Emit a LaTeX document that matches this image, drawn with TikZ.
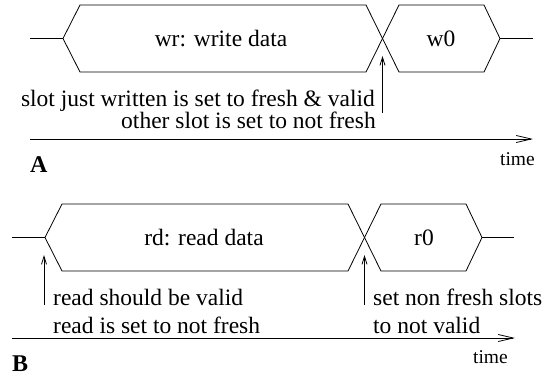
\documentclass[tikz,border=0pt]{standalone}
\usepackage{fontspec}
\setmainfont{Liberation Serif}
\usetikzlibrary{arrows.meta}
\begin{document}
\begin{tikzpicture}[x=1pt,y=-1pt,
  sig/.style={line width=0.8pt, line join=miter},
  axis/.style={line width=0.8pt, -{Straight Barb[length=15pt,width=7pt,line width=0.8pt]}},
  pointer/.style={line width=0.8pt, -{Straight Barb[length=8pt,width=5pt,line width=0.8pt]}},
  lbl/.style={inner sep=0pt, font=\fontsize{23.5}{26}\selectfont},
  ann/.style={inner sep=0pt, font=\fontsize{23.5}{26}\selectfont},
  tlbl/.style={inner sep=0pt, font=\fontsize{19.5}{22}\selectfont},
  plbl/.style={inner sep=0pt, font=\fontsize{24}{26}\selectfont\bfseries}]
\useasboundingbox (0,0) rectangle (552,378);
% ---------- A ----------
\coordinate (aL) at (30,38.5);
\coordinate (aX) at (382.5,38.5);
\coordinate (aR) at (500,38.5);
\coordinate (aE) at (533,38.5);
\draw[sig] (aL) -- (63,38.5);
\draw[sig] (63,38.5) -- (80,5) -- (366,5) -- (aX) -- (366,72) -- (80,72) -- cycle;
\draw[sig] (aX) -- (399,5) -- (484,5) -- (aR) -- (484,72) -- (399,72) -- cycle;
\draw[sig] (aR) -- (aE);
\node[lbl] (wr) at (221,38.5) {wr: write data};
\node[lbl] (w0) at (441,38.5) {w0};
\coordinate (aM0) at (382.5,113);
\coordinate (aM1) at (382.5,56);
\draw[pointer] (aM0) -- (aM1);
\node[ann, anchor=base east] (a1) at (375,106.7) {slot just written is set to fresh \& valid};
\node[ann, anchor=base east] (a2) at (376,128) {other slot is set to not fresh};
\coordinate (aT0) at (30,139);
\coordinate (aT1) at (533,139);
\draw[axis] (aT0) -- (aT1);
\node[tlbl, anchor=base east] (at) at (535,165) {time};
\node[plbl, anchor=base west] (A) at (30,172) {A};
% ---------- B ----------
\coordinate (bL) at (12,237.5);
\coordinate (bX) at (364.5,237.5);
\coordinate (bR) at (482,237.5);
\coordinate (bE) at (514,237.5);
\draw[sig] (bL) -- (45,237.5);
\draw[sig] (45,237.5) -- (62,204) -- (348,204) -- (bX) -- (348,271) -- (62,271) -- cycle;
\draw[sig] (bX) -- (381,204) -- (466,204) -- (bR) -- (466,271) -- (381,271) -- cycle;
\draw[sig] (bR) -- (bE);
\node[lbl] (rd) at (204,237.5) {rd: read data};
\node[lbl] (r0) at (424,237.5) {r0};
\coordinate (bM0) at (44,305);
\coordinate (bM1) at (44,255);
\draw[pointer] (bM0) -- (bM1);
\coordinate (bN0) at (364.5,305);
\coordinate (bN1) at (364.5,255);
\draw[pointer] (bN0) -- (bN1);
\node[ann, anchor=base west] (b1) at (53,305) {read should be valid};
\node[ann, anchor=base west] (b2) at (53,333) {read is set to not fresh};
\node[ann, anchor=base west] (b3) at (373,305) {set non fresh slots};
\node[ann, anchor=base west] (b4) at (373,333) {to not valid};
\coordinate (bT0) at (12,338);
\coordinate (bT1) at (515,338);
\draw[axis] (bT0) -- (bT1);
\node[tlbl, anchor=base east] (bt) at (508,363) {time};
\node[plbl, anchor=base west] (B) at (12,371.5) {B};
\end{tikzpicture}
\end{document}
